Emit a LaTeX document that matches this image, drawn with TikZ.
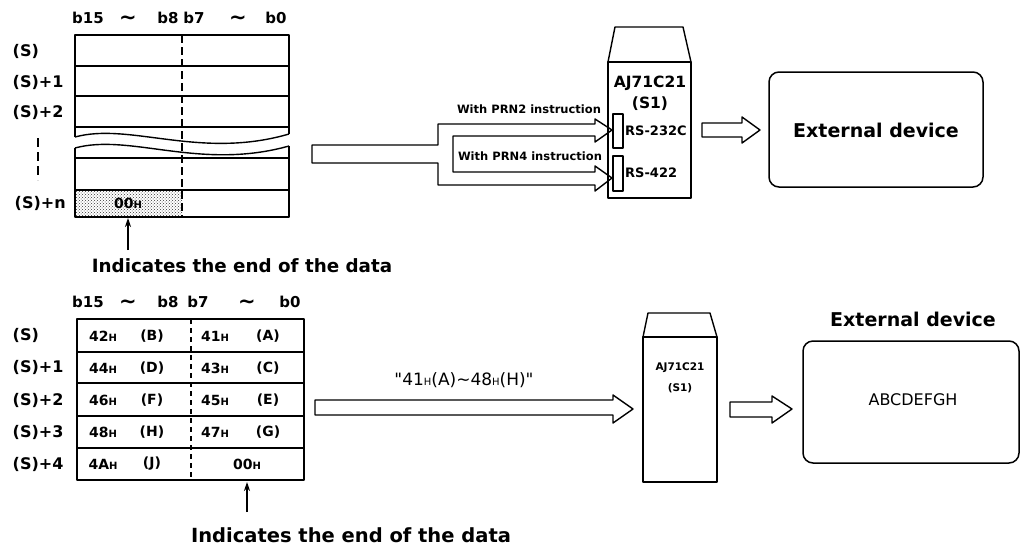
\documentclass[tikz,border=0pt]{standalone}
\usepackage{fontspec}
\setmainfont{DejaVu Sans}[Ligatures=TeXOff]
\usetikzlibrary{arrows.meta,patterns}
\newcommand{\subH}{{\fontsize{10}{10}\selectfont H}}
\newcommand{\qt}{\char34\relax}
\begin{document}
\begin{tikzpicture}[x=1pt,y=-1pt,line width=1.4pt,line join=round,
  hdr/.style={font=\fontsize{15}{15}\selectfont\bfseries,inner sep=0pt},
  tld/.style={font=\fontsize{21}{21}\selectfont\bfseries,inner sep=0pt},
  rowlbl/.style={font=\fontsize{16}{16}\selectfont\bfseries,inner sep=0pt,anchor=west},
  cell/.style={font=\fontsize{14}{14}\selectfont\bfseries,inner sep=0pt},
  note/.style={font=\fontsize{19.5}{19.5}\selectfont\bfseries,inner sep=0pt},
  small/.style={font=\fontsize{13}{13}\selectfont\bfseries,inner sep=0pt},
  prn/.style={font=\fontsize{11.5}{11.5}\selectfont\bfseries,inner sep=0pt},
  hollow/.style={draw,fill=white,line width=1.4pt},
  devbox/.style={draw,rounded corners=10pt,line width=1.5pt},
  uparrow/.style={-{Stealth[length=9pt,width=6pt]},line width=1.1pt}]
\useasboundingbox (0,0) rectangle (1022,547);

% ================= TOP PART =================
\node[hdr] (th1) at (88,18) {b15};
\node[tld] (th2) at (128,20) {\char`\~};
\node[hdr] (th3) at (168,18) {b8};
\node[hdr] (th4) at (194,18) {b7};
\node[tld] (th5) at (238,20) {\char`\~};
\node[hdr] (th6) at (276,18) {b0};
\node[rowlbl] (tl1) at (12,51) {(S)};
\node[rowlbl] (tl2) at (12,82) {(S)+1};
\node[rowlbl] (tl3) at (12,112) {(S)+2};
\node[rowlbl] (tl4) at (14,203) {(S)+n};
\draw[line width=2pt,dash pattern=on 9pt off 5pt] (38,138) -- (38,180);
\path[pattern=crosshatch dots,pattern color=black!80] (75,190) rectangle (182,217);
\draw (75,137) -- (75,35) -- (289,35) -- (289,134);
\draw (75,66) -- (289,66);
\draw (75,96) -- (289,96);
\draw (75,127) -- (289,127);
\draw (75,137) .. controls (130,122) and (200,160) .. (289,134);
\draw (75,148) .. controls (130,133) and (200,171) .. (289,146);
\draw (75,148) -- (75,217) -- (289,217) -- (289,146);
\draw (75,158) -- (289,158);
\draw (75,190) -- (289,190);
\draw[line width=1.3pt,dash pattern=on 8pt off 4pt] (182,35) -- (182,217);
\node[font=\fontsize{14}{14}\selectfont\bfseries,inner sep=0pt] (t00) at (128,203) {00\subH};
\coordinate (tarrS) at (128,250);
\draw[uparrow] (tarrS) -- (128,218);
\node[note,font=\fontsize{18.3}{18.3}\selectfont\bfseries] (tnote) at (242,266) {Indicates the end of the data};

\draw[hollow] (312,145) -- (438,145) -- (438,124) -- (595,124) -- (595,119) -- (612,130)
  -- (595,142) -- (595,136) -- (453,136) -- (453,172) -- (595,172) -- (595,166)
  -- (612,178) -- (595,191) -- (595,185) -- (438,185) -- (438,163) -- (312,163) -- cycle;
\node[prn] (prn2) at (529,109) {With PRN2 instruction};
\node[prn] (prn4) at (530,156) {With PRN4 instruction};

\draw (615,27) -- (683,27) -- (691,62) -- (608,62) -- cycle;
\draw (608,62) rectangle (691,198);
\node[font=\fontsize{15.5}{15.5}\selectfont\bfseries,inner sep=0pt] (m1a) at (650,83) {AJ71C21};
\node[font=\fontsize{15.5}{15.5}\selectfont\bfseries,inner sep=0pt] (m1b) at (650,104) {(S1)};
\draw[fill=white] (613,114) rectangle (623,148);
\draw[fill=white] (613,156) rectangle (623,191);
\node[small,anchor=west] (rs232) at (624.5,131) {RS-232C};
\node[small,anchor=west] (rs422) at (624.5,173) {RS-422};

\draw[hollow] (702,123) -- (742,123) -- (742,117) -- (760,130) -- (742,143) -- (742,137) -- (702,137) -- cycle;
\draw[devbox] (769,72) rectangle (983,187);
\node[font=\fontsize{19}{19}\selectfont\bfseries,inner sep=0pt] (ext1) at (876,130) {External device};

% ================= BOTTOM PART =================
\node[hdr] (bh1) at (88,302) {b15};
\node[tld] (bh2) at (128,304) {\char`\~};
\node[hdr] (bh3) at (168,302) {b8};
\node[hdr] (bh4) at (198,302) {b7};
\node[tld] (bh5) at (247,304) {\char`\~};
\node[hdr] (bh6) at (290,302) {b0};

\node[rowlbl] (bl1) at (12,335) {(S)};
\node[rowlbl] (bl2) at (12,367) {(S)+1};
\node[rowlbl] (bl3) at (12,400) {(S)+2};
\node[rowlbl] (bl4) at (12,432) {(S)+3};
\node[rowlbl] (bl5) at (12,464) {(S)+4};

\draw (77,319) rectangle (304,480);
\draw (77,352) -- (304,352);
\draw (77,383) -- (304,383);
\draw (77,416) -- (304,416);
\draw (77,448) -- (304,448);
\draw[line width=1.2pt,dash pattern=on 5pt off 4pt] (191,319) -- (191,480);

\node[cell] (c1a) at (103,336) {42\subH};  \node[cell] (c1b) at (152,336) {(B)};
\node[cell] (c1c) at (215,336) {41\subH};  \node[cell] (c1d) at (268,336) {(A)};
\node[cell] (c2a) at (103,368) {44\subH};  \node[cell] (c2b) at (152,368) {(D)};
\node[cell] (c2c) at (215,368) {43\subH};  \node[cell] (c2d) at (268,368) {(C)};
\node[cell] (c3a) at (103,400) {46\subH};  \node[cell] (c3b) at (152,400) {(F)};
\node[cell] (c3c) at (215,400) {45\subH};  \node[cell] (c3d) at (268,400) {(E)};
\node[cell] (c4a) at (103,432) {48\subH};  \node[cell] (c4b) at (152,432) {(H)};
\node[cell] (c4c) at (215,432) {47\subH};  \node[cell] (c4d) at (268,432) {(G)};
\node[cell] (c5a) at (103,464) {4A\subH};  \node[cell] (c5b) at (152,464) {(J)};
\node[cell] (c5c) at (247,464) {00\subH};

\coordinate (barrS) at (247,512);
\draw[uparrow] (barrS) -- (247,482);
\node[note] (bnote) at (351,535) {Indicates the end of the data};

\draw[hollow] (315,400) -- (613,400) -- (613,395) -- (633,409) -- (613,423) -- (613,415) -- (315,415) -- cycle;
\node[font=\fontsize{17}{17}\selectfont,inner sep=0pt] (lbl) at (464,380) {\qt41\subH(A)\char`\~48\subH(H)\qt};

\draw (648,313) -- (710,313) -- (717,337) -- (643,337) -- cycle;
\draw (643,337) rectangle (717,482);
\node[font=\fontsize{10.5}{10.5}\selectfont\bfseries,inner sep=0pt] (m2a) at (680,368) {AJ71C21};
\node[font=\fontsize{10.5}{10.5}\selectfont\bfseries,inner sep=0pt] (m2b) at (680,388) {(S1)};

\draw[hollow] (730,402) -- (772,402) -- (772,396) -- (792,409) -- (772,423) -- (772,417) -- (730,417) -- cycle;
\draw[devbox] (803,341) rectangle (1019,463);
\node[font=\fontsize{16}{16}\selectfont,inner sep=0pt] (abc) at (913,400) {ABCDEFGH};
\node[font=\fontsize{19}{19}\selectfont\bfseries,inner sep=0pt] (ext2) at (913,319) {External device};
\end{tikzpicture}
\end{document}
